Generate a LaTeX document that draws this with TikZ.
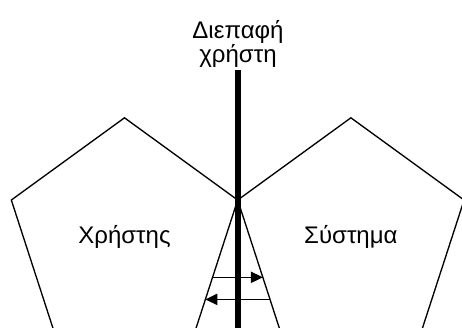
\documentclass[tikz,border=0pt]{standalone}
\usepackage{fontspec}
\setmainfont{Liberation Sans}
\usetikzlibrary{shapes.geometric,arrows.meta,calc}
\definecolor{uiink}{HTML}{000000}

\begin{document}
\begin{tikzpicture}[
  x=0.75pt, y=-0.75pt,
  font=\fontsize{18}{17.5}\selectfont,
  side/.style={draw=uiink, line width=1pt, regular polygon,
    regular polygon sides=5, minimum size=178.5pt,
    inner sep=0pt, outer sep=0pt},
  flow/.style={draw=uiink, line width=1pt,
    -{Triangle[length=9pt, width=8.5pt]}},
]
\useasboundingbox (0,0) rectangle (462,328);
\clip (0,0) rectangle (462,328);

\node[side] (user) at (124.5,236.8) {Χρήστης};
\node[side] (sys) at (350.9,236.8) {Σύστημα};

\node[anchor=south, align=center, inner sep=2pt] (ui) at (238,70)
  {Διεπαφή\\χρήστη};
\coordinate (floor) at (238,335);
\draw[uiink, line width=3.8pt] (ui.south) -- (floor);

% messages across the interface
\draw[flow] ($(user.corner 5)!0.581!(user.corner 4)$)
  -- ($(sys.corner 2)!0.581!(sys.corner 3)$);
\draw[flow] ($(sys.corner 2)!0.747!(sys.corner 3)$)
  -- ($(user.corner 5)!0.747!(user.corner 4)$);

\end{tikzpicture}
\end{document}
